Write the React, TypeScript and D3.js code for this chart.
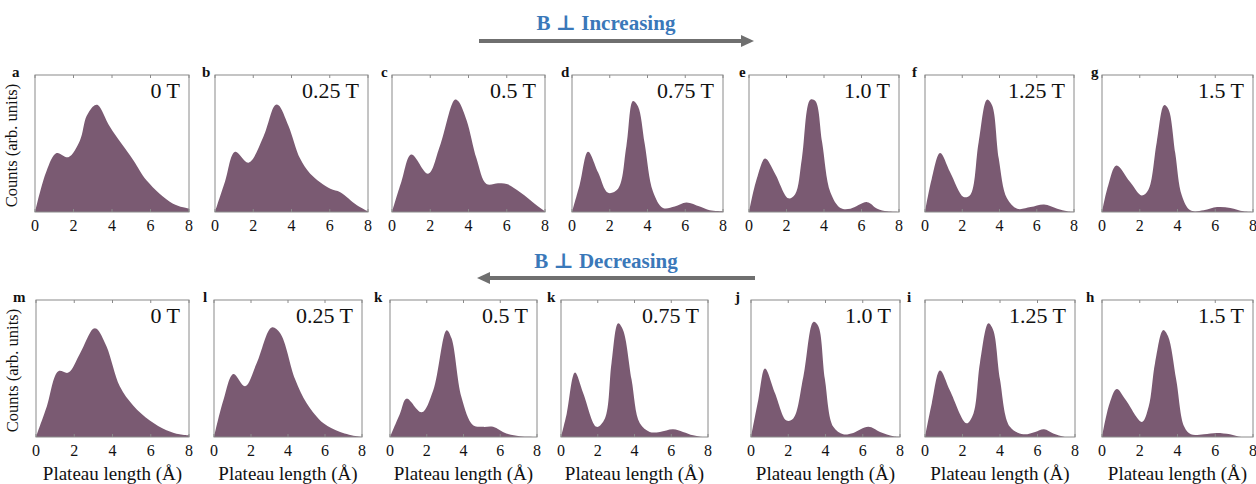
import React from "react";
import * as d3 from "d3";

// ---------- data ----------
const topLabels = ["a", "b", "c", "d", "e", "f", "g"];
const bottomLabels = ["m", "l", "k", "k", "j", "i", "h"];
const fieldLabels = ["0 T", "0.25 T", "0.5 T", "0.75 T", "1.0 T", "1.25 T", "1.5 T"];
const xTicks = [0, 2, 4, 6, 8];

// [plateau length (Å), counts (arb.)]
const top0T: [number, number][] = [[0,0],[0.6,0.3],[1.12,0.43],[1.73,0.4],[2.33,0.52],[2.68,0.7],[3.1,0.78],[3.28,0.78],[3.9,0.62],[5.1,0.38],[5.8,0.23],[7.17,0.06],[8,0.025]];
const top025T: [number, number][] = [[0,0],[0.52,0.22],[1.05,0.44],[1.75,0.36],[2.53,0.55],[3.14,0.78],[3.32,0.78],[3.84,0.63],[4.45,0.39],[4.98,0.28],[6.03,0.17],[6.55,0.145],[7.42,0.05],[8,0.005]];
const top05T: [number, number][] = [[0,0],[0.49,0.22],[1.01,0.42],[1.89,0.28],[2.5,0.48],[3.28,0.82],[3.46,0.81],[3.9,0.67],[4.42,0.39],[4.94,0.205],[5.55,0.21],[6,0.205],[6.7,0.145],[7.56,0.05],[8,0.005]];
const top075T: [number, number][] = [[0,0],[0.41,0.2],[0.85,0.44],[1.38,0.29],[1.91,0.14],[2.44,0.17],[2.88,0.48],[3.23,0.81],[3.5,0.77],[3.85,0.5],[4.29,0.15],[4.82,0.03],[5.44,0.04],[6.06,0.07],[6.77,0.04],[7.3,0.012],[8,0.005]];
const top10T: [number, number][] = [[0,0],[0.41,0.24],[0.86,0.39],[1.39,0.28],[2.1,0.1],[2.46,0.13],[2.82,0.39],[3.27,0.82],[3.54,0.81],[3.9,0.51],[4.34,0.145],[4.88,0.03],[5.41,0.024],[6.3,0.072],[6.84,0.024],[7.38,0.005],[8,0]];
const top125T: [number, number][] = [[0,0],[0.36,0.24],[0.81,0.43],[1.35,0.29],[2.07,0.11],[2.43,0.125],[2.88,0.51],[3.33,0.82],[3.6,0.78],[3.96,0.39],[4.4,0.1],[4.95,0.024],[5.67,0.036],[6.39,0.055],[7.1,0.024],[7.64,0.005],[8,0]];
const top15T: [number, number][] = [[0,0],[0.32,0.19],[0.76,0.34],[1.48,0.22],[2.1,0.12],[2.45,0.16],[2.9,0.51],[3.29,0.78],[3.52,0.75],[3.88,0.43],[4.23,0.12],[4.68,0.012],[5.39,0.012],[6.1,0.036],[6.8,0.03],[7.5,0.005],[8,0]];

const bot0T: [number, number][] = [[0,0],[0.56,0.22],[1.17,0.48],[1.69,0.47],[2.3,0.61],[2.99,0.79],[3.17,0.79],[3.69,0.66],[4.38,0.37],[5.08,0.23],[5.95,0.12],[6.82,0.05],[7.51,0.02],[8,0.012]];
const bot025T: [number, number][] = [[0,0],[0.51,0.27],[1.05,0.46],[1.68,0.37],[2.31,0.54],[3.12,0.8],[3.57,0.76],[4.39,0.42],[5.02,0.245],[5.92,0.1],[6.82,0.037],[7.73,0.005],[8,0]];
const bot05T: [number, number][] = [[0,0],[0.54,0.17],[0.9,0.28],[1.72,0.18],[2.35,0.34],[3.08,0.78],[3.35,0.72],[3.89,0.29],[4.52,0.086],[5.07,0.074],[5.61,0.074],[6.33,0.025],[7.06,0.005],[8,0]];
const bot075T: [number, number][] = [[0,0],[0.31,0.17],[0.76,0.47],[1.21,0.32],[1.94,0.074],[2.39,0.135],[2.75,0.54],[3.11,0.83],[3.38,0.78],[3.84,0.42],[4.29,0.1],[4.83,0.037],[5.38,0.037],[6.1,0.056],[6.64,0.037],[7.19,0.012],[7.7,0],[8,0]];
const bot10T: [number, number][] = [[0,0],[0.39,0.27],[0.75,0.5],[1.29,0.32],[1.91,0.12],[2.27,0.135],[2.81,0.44],[3.35,0.84],[3.61,0.81],[3.97,0.42],[4.42,0.074],[4.95,0.02],[5.49,0.03],[6.3,0.074],[6.93,0.037],[7.64,0.005],[8,0]];
const bot125T: [number, number][] = [[0,0],[0.36,0.245],[0.8,0.485],[1.33,0.34],[2.22,0.1],[2.58,0.17],[2.93,0.54],[3.38,0.83],[3.64,0.78],[4,0.42],[4.53,0.074],[5.24,0.02],[5.87,0.037],[6.35,0.056],[6.84,0.025],[7.46,0],[8,0]];
const bot15T: [number, number][] = [[0,0],[0.4,0.245],[0.78,0.35],[1.26,0.27],[2.12,0.11],[2.47,0.22],[2.81,0.54],[3.24,0.78],[3.5,0.735],[3.93,0.42],[4.36,0.074],[4.71,0.02],[5.4,0.02],[6.09,0.03],[6.78,0.02],[7.38,0],[8,0]];

const topSeries = [top0T, top025T, top05T, top075T, top10T, top125T, top15T];
const bottomSeries = [bot0T, bot025T, bot05T, bot075T, bot10T, bot125T, bot15T];

// ---------- layout ----------
const W = 1256, H = 484;
const FILL = "#7a5a72";
const FRAME = "#8a8a8a";
const SERIF = "Liberation Serif, Tinos, Times New Roman, DejaVu Serif, serif";
const rows = [
  { top: 75, bottom: 212, lefts: [35, 215, 392, 572, 749, 925, 1102], widths: [154, 153, 153, 151, 150, 149, 151],
    letterDx: [-23, -13, -11, -11, -10, -13, -11], letters: topLabels, series: topSeries, xlabel: false },
  { top: 300, bottom: 437, lefts: [36, 214, 390, 561, 751, 925, 1102], widths: [153, 148, 147, 147, 149, 150, 151],
    letterDx: [-23, -11, -16, -14, -16, -18, -16], letters: bottomLabels, series: bottomSeries, xlabel: true },
];

function Panel({ id, left, width, top, bottom, letter, letterDx, field, data, xlabel, first }: any) {
  const x = d3.scaleLinear().domain([0, 8]).range([left, left + width]);
  const y = d3.scaleLinear().domain([0, 1]).range([bottom, top]);
  const area = d3.area<[number, number]>()
    .x((d) => x(d[0]))
    .y0(bottom)
    .y1((d) => y(d[1]))
    .curve(d3.curveCatmullRom.alpha(0.5));
  return (
    <g>
      <clipPath id={id}>
        <rect x={left} y={top} width={width} height={bottom - top} />
      </clipPath>
      <path d={area(data) || ""} fill={FILL} clipPath={`url(#${id})`} />
      <rect x={left} y={top} width={width} height={bottom - top} fill="none" stroke={FRAME} strokeWidth={1} />
      {xTicks.map((t) => (
        <g key={t}>
          <line x1={x(t)} x2={x(t)} y1={bottom} y2={bottom - 3} stroke={FRAME} />
          <line x1={x(t)} x2={x(t)} y1={top} y2={top + 3} stroke={FRAME} />
          <text x={x(t)} y={bottom + 19} textAnchor="middle" style={{ fontFamily: SERIF }} fontSize={16} fill="#111">{t}</text>
        </g>
      ))}
      <text x={left + letterDx} y={top + 2} style={{ fontFamily: SERIF }} fontWeight="bold" fontSize={15} fill="#111">{letter}</text>
      <text x={left + width - 9} y={top + 23} textAnchor="end" style={{ fontFamily: SERIF }} fontSize={22} fill="#111">{field}</text>
      {xlabel && (
        <text x={left + width / 2} y={bottom + 43} textAnchor="middle" style={{ fontFamily: SERIF }} fontSize={19} fill="#111">Plateau length (Å)</text>
      )}
      {first && (
        <text transform={`translate(${left - 18},${(top + bottom) / 2 + 2}) rotate(-90)`} textAnchor="middle" style={{ fontFamily: SERIF }} fontSize={16.5} fill="#111">Counts (arb. units)</text>
      )}
    </g>
  );
}

function Arrow({ x1, x2, y, color }: any) {
  const dir = x2 > x1 ? 1 : -1;
  const head = 13;
  return (
    <g>
      <line x1={x1} x2={x2 - dir * head} y1={y} y2={y} stroke={color} strokeWidth={4} />
      <path d={`M${x2},${y} L${x2 - dir * head},${y - 6} L${x2 - dir * head},${y + 6} Z`} fill={color} />
    </g>
  );
}

export default function App() {
  return (
    <svg width={W} height={H} style={{ display: "block", position: "absolute", left: 0, top: 0 }}>
      <rect width={W} height={H} fill="#fff" />
      <text x={606} y={30} textAnchor="middle" style={{ fontFamily: SERIF }} fontWeight="bold" fontSize={21} fill="#3a78b9">B ⊥ Increasing</text>
      <Arrow x1={479} x2={754} y={41} color="#6f6f6f" />
      <text x={606} y={268} textAnchor="middle" style={{ fontFamily: SERIF }} fontWeight="bold" fontSize={21} fill="#3a78b9">B ⊥ Decreasing</text>
      <Arrow x1={755} x2={477} y={278} color="#6f6f6f" />
      {rows.map((r, ri) =>
        r.lefts.map((l, i) => (
          <Panel key={`${ri}-${i}`} id={`clip-${ri}-${i}`} left={l} width={r.widths[i]} top={r.top} bottom={r.bottom}
            letter={r.letters[i]} letterDx={r.letterDx[i]} field={fieldLabels[i]} data={r.series[i]} xlabel={r.xlabel} first={i === 0} />
        ))
      )}
    </svg>
  );
}
